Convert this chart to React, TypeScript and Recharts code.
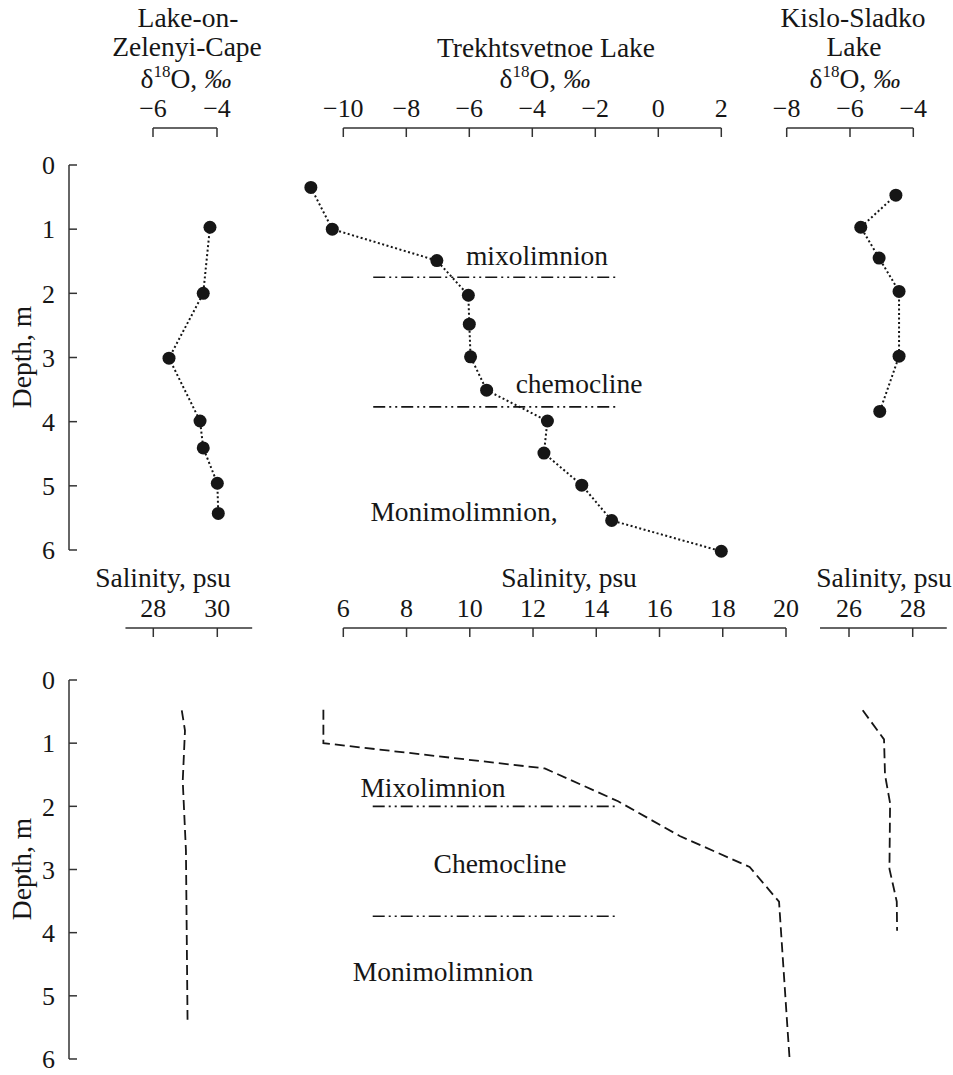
import React from "react";
import { ComposedChart, Line, XAxis, YAxis, ReferenceLine } from "recharts";

const SERIF = '"Liberation Serif", "Times New Roman", serif';
const INK = "#161616";
const AXIS = "#333";

// --- top row: delta 18O profiles ---
const zcDepth = [0.97, 2.0, 3.01, 3.99, 4.41, 4.96, 5.43];
const zcD18O = [-4.22, -4.43, -5.5, -4.53, -4.43, -3.99, -3.96];

const trDepth = [0.35, 1.0, 1.49, 2.03, 2.48, 2.99, 3.51, 3.99, 4.49, 4.99, 5.54, 6.02];
const trD18O = [-11.03, -10.35, -7.03, -6.03, -6.0, -5.96, -5.45, -3.52, -3.63, -2.43, -1.48, 2.0];

const ksDepth = [0.47, 0.97, 1.45, 1.97, 2.98, 3.84];
const ksD18O = [-4.55, -5.66, -5.08, -4.45, -4.45, -5.06];

// --- bottom row: salinity profiles ---
const zcSalDepth = [0.48, 0.8, 1.6, 2.7, 5.38];
const zcSal = [28.89, 28.99, 28.92, 29.02, 29.07];

const trSalDepth = [0.47, 1.0, 1.4, 1.92, 2.47, 2.96, 3.51, 5.61, 5.97];
const trSal = [5.37, 5.37, 12.37, 14.69, 16.64, 18.85, 19.78, 20.06, 20.11];

const ksSalDepth = [0.48, 0.94, 1.5, 1.95, 2.99, 3.51, 3.97];
const ksSal = [26.43, 27.1, 27.13, 27.29, 27.27, 27.5, 27.51];

// ticks
const depthTicks = [0, 1, 2, 3, 4, 5, 6];
const zcD18OTicks = [-6, -4];
const trD18OTicks = [-10, -8, -6, -4, -2, 0, 2];
const ksD18OTicks = [-8, -6, -4];
const zcSalTicks = [28, 30];
const trSalTicks = [6, 8, 10, 12, 14, 16, 18, 20];
const ksSalTicks = [26, 28];

// layer boundaries drawn in the Trekhtsvetnoe panels
const trD18OBoundDepth = [1.75, 3.77];
const trD18OBoundSpan = [-9.05, -1.24];
const trSalBoundDepth = [2.0, 3.74];
const trSalBoundSpan = [6.93, 14.65];

const AXIS_H = 45;
const TOP_ROW = { axisY: 128, zeroY: 165, sixY: 550, maxDepth: 6.25 };
const BOTTOM_ROW = { axisY: 628, zeroY: 680, sixY: 1059, maxDepth: 6.35 };

const fmt = (v: number) => (v < 0 ? `\u2212${Math.abs(v)}` : String(v));

type Row = typeof TOP_ROW;

interface PanelProps {
    row: Row;
    left: number;
    right: number;
    cal: [number, number, number, number];
    axisSpan: [number, number];
    ticks: number[];
    depth: number[];
    values: number[];
    dotted?: boolean;
    showDepth?: boolean;
    boundDepth?: number[];
    boundSpan?: number[];
}

function Panel(p: PanelProps) {
    const ppu = (p.cal[3] - p.cal[1]) / (p.cal[2] - p.cal[0]);
    const xDomain: [number, number] = [
        p.cal[0] + (p.left - p.cal[1]) / ppu,
        p.cal[0] + (p.right - p.cal[1]) / ppu,
    ];
    const ppuY = (p.row.sixY - p.row.zeroY) / 6;
    const yDomain: [number, number] = [-(p.row.zeroY - p.row.axisY) / ppuY, p.row.maxDepth];
    const plotH = (yDomain[1] - yDomain[0]) * ppuY;
    const yW = p.showDepth ? p.left : 0;
    const data = p.depth.map((d, i) => ({ depth: d, v: p.values[i] }));
    const tickStyle = { fontSize: 26, fill: INK, fontFamily: SERIF };

    return (
        <div style={{ position: "absolute", left: p.left - yW, top: p.row.axisY - AXIS_H }}>
            <ComposedChart
                layout='vertical'
                width={yW + p.right - p.left}
                height={AXIS_H + plotH}
                data={data}
                margin={{ top: 0, right: 0, bottom: 0, left: 0 }}
            >
                <XAxis
                    type='number'
                    orientation='top'
                    domain={xDomain}
                    ticks={p.ticks}
                    interval={0}
                    height={AXIS_H}
                    axisLine={false}
                    tickLine={{ stroke: AXIS, strokeWidth: 1.5 }}
                    tickSize={-9}
                    tickMargin={20}
                    tick={tickStyle}
                    tickFormatter={fmt}
                />
                <YAxis
                    type='number'
                    dataKey='depth'
                    domain={yDomain}
                    hide={!p.showDepth}
                    width={yW}
                    ticks={depthTicks}
                    interval={0}
                    axisLine={false}
                    tickLine={{ stroke: AXIS, strokeWidth: 1.5 }}
                    tickSize={-8}
                    tickMargin={22}
                    tick={tickStyle}
                />
                <ReferenceLine
                    segment={[
                        { x: p.axisSpan[0], y: yDomain[0] },
                        { x: p.axisSpan[1], y: yDomain[0] },
                    ]}
                    stroke={AXIS}
                    strokeWidth={1.5}
                    ifOverflow='visible'
                />
                {p.showDepth && (
                    <ReferenceLine
                        segment={[
                            { x: xDomain[0], y: 0 },
                            { x: xDomain[0], y: 6 },
                        ]}
                        stroke={AXIS}
                        strokeWidth={1.5}
                        ifOverflow='visible'
                    />
                )}
                {p.boundDepth?.map((d) => (
                    <ReferenceLine
                        key={d}
                        segment={[
                            { x: p.boundSpan![0], y: d },
                            { x: p.boundSpan![1], y: d },
                        ]}
                        stroke={INK}
                        strokeWidth={1.6}
                        strokeDasharray='12 4 2 4 2 4'
                    />
                ))}
                <Line
                    dataKey='v'
                    type='linear'
                    stroke={INK}
                    strokeWidth={p.dotted ? 2 : 1.8}
                    strokeDasharray={p.dotted ? "2 2.5" : "10 5"}
                    dot={p.dotted ? { r: 6.5, fill: INK, stroke: INK, strokeWidth: 0 } : false}
                    activeDot={false}
                    isAnimationActive={false}
                />
            </ComposedChart>
        </div>
    );
}

const T = (props: { x: number; y: number; children: React.ReactNode }) => (
    <text x={props.x} y={props.y} textAnchor='middle' fontSize={27.5} fontFamily={SERIF} fill={INK}>
        {props.children}
    </text>
);

const Delta = ({ x, y }: { x: number; y: number }) => (
    <text x={x} y={y} textAnchor='middle' fontSize={27.5} fontFamily={SERIF} fill={INK}>
        δ
        <tspan dy={-11} fontSize={17}>
            18
        </tspan>
        <tspan dy={11}>O, </tspan>
        <tspan fontStyle='italic'>‰</tspan>
    </text>
);

export default function App() {
    return (
        <div style={{ position: "absolute", left: 0, top: 0, width: 953, height: 1075, background: "#fff", overflow: "hidden" }}>
            <Panel row={TOP_ROW} left={69} right={260} cal={[-6, 153, -4, 217]} axisSpan={[-6, -4]} ticks={zcD18OTicks} depth={zcDepth} values={zcD18O} dotted showDepth />
            <Panel
                row={TOP_ROW}
                left={295}
                right={740}
                cal={[-10, 343.3, 2, 721.3]}
                axisSpan={[-10, 2]}
                ticks={trD18OTicks}
                depth={trDepth}
                values={trD18O}
                dotted
                boundDepth={trD18OBoundDepth}
                boundSpan={trD18OBoundSpan}
            />
            <Panel row={TOP_ROW} left={770} right={945} cal={[-8, 786.7, -4, 913.3]} axisSpan={[-8, -4]} ticks={ksD18OTicks} depth={ksDepth} values={ksD18O} dotted />

            <Panel row={BOTTOM_ROW} left={69} right={260} cal={[28, 153.3, 30, 217.3]} axisSpan={[27.13, 31.09]} ticks={zcSalTicks} depth={zcSalDepth} values={zcSal} showDepth />
            <Panel
                row={BOTTOM_ROW}
                left={300}
                right={805}
                cal={[6, 343.3, 20, 786]}
                axisSpan={[6, 20]}
                ticks={trSalTicks}
                depth={trSalDepth}
                values={trSal}
                boundDepth={trSalBoundDepth}
                boundSpan={trSalBoundSpan}
            />
            <Panel row={BOTTOM_ROW} left={810} right={950} cal={[26, 849, 28, 912.7]} axisSpan={[25.09, 29.07]} ticks={ksSalTicks} depth={ksSalDepth} values={ksSal} />

            <svg width={953} height={1075} style={{ position: "absolute", left: 0, top: 0, pointerEvents: "none" }}>
                <T x={188} y={27}>Lake-on-</T>
                <T x={187} y={55.5}>Zelenyi-Cape</T>
                <Delta x={186} y={87.5} />
                <T x={546} y={56.5}>Trekhtsvetnoe Lake</T>
                <Delta x={545} y={87.5} />
                <T x={853} y={27}>Kislo-Sladko</T>
                <T x={854} y={55.5}>Lake</T>
                <Delta x={855} y={87.5} />

                <T x={537} y={265}>mixolimnion</T>
                <T x={579} y={393}>chemocline</T>
                <T x={464} y={521}>Monimolimnion,</T>

                <T x={163} y={586.5}>Salinity, psu</T>
                <T x={569} y={586.5}>Salinity, psu</T>
                <T x={884} y={586.5}>Salinity, psu</T>

                <T x={433} y={797}>Mixolimnion</T>
                <T x={500} y={873}>Chemocline</T>
                <T x={443} y={981}>Monimolimnion</T>

                <text transform='translate(31,869) rotate(-90)' textAnchor='middle' fontSize={27.5} fontFamily={SERIF} fill={INK}>
                    Depth, m
                </text>
                <text transform='translate(31,357) rotate(-90)' textAnchor='middle' fontSize={27.5} fontFamily={SERIF} fill={INK}>
                    Depth, m
                </text>
            </svg>
        </div>
    );
}
